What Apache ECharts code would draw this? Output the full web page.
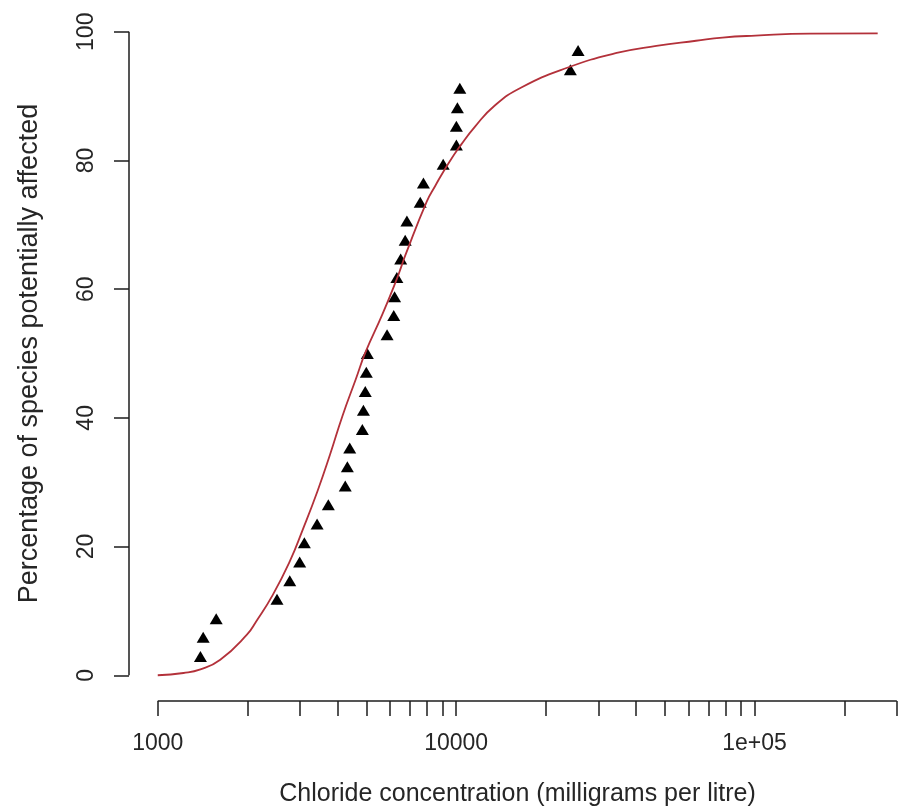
<!DOCTYPE html>
<html>
<head>
<meta charset="utf-8">
<title>Chloride species sensitivity distribution</title>
<script src="https://cdn.jsdelivr.net/npm/echarts@6/dist/echarts.min.js"></script>
<style>
  html, body { margin: 0; padding: 0; background: #ffffff; }
  #chart { width: 906px; height: 812px; }
</style>
</head>
<body>
<div id="chart"></div>
<script>
// Observed toxicity data: concentration (mg/L) and cumulative percentage of species
const concentration = [1390, 1420, 1570, 2510, 2770, 2990, 3100, 3420, 3730, 4250, 4320,
  4400, 4850, 4890, 4960, 5000, 5040, 5870, 6180, 6220, 6330, 6520, 6750, 6840, 7580,
  7770, 9050, 10020, 10020, 10100, 10290, 24150, 25630];
const affected = [2.9, 5.9, 8.8, 11.8, 14.7, 17.6, 20.6, 23.5, 26.5, 29.4, 32.4, 35.3,
  38.2, 41.2, 44.1, 47.1, 50.0, 52.9, 55.9, 58.8, 61.8, 64.7, 67.6, 70.6, 73.5, 76.5,
  79.4, 82.4, 85.3, 88.2, 91.2, 94.1, 97.1];

// Fitted distribution curve
const fitConc = [1000, 1220, 1390, 1620, 1990, 2140, 2430, 2770, 3060, 3430, 3780,
  4160, 4610, 4970, 5650, 6330, 6550, 6750, 7970, 8500, 9410, 10410, 11590, 13450, 16480,
  23560, 34530, 46900, 63700, 78100, 100800, 153500, 258800];
const fitPct = [0.0, 0.35, 0.9, 2.4, 6.3, 8.4, 12.5, 17.7, 22.6, 28.6, 34.3,
  40.3, 46.0, 50.2, 56.0, 61.6, 63.5, 65.2, 73.6, 76.0, 79.5, 82.5, 85.3, 88.5, 91.3,
  94.4, 96.7, 97.8, 98.6, 99.1, 99.4, 99.7, 99.75];

// Axis ticks and labels
const xTickValues = [1000, 2000, 3000, 4000, 5000, 6000, 7000, 8000, 9000,
  10000, 20000, 30000, 40000, 50000, 60000, 70000, 80000, 90000,
  100000, 200000, 300000];
const xLabelValues = [1000, 10000, 100000];
const xLabelTexts = ['1000', '10000', '1e+05'];
const yTickValues = [0, 20, 40, 60, 80, 100];
const yLabelTexts = ['0', '20', '40', '60', '80', '100'];

// Plot ranges (data range padded by 4% on each side)
const xMin = 801, xMax = 322000;
const yMin = -4, yMax = 104;

const ink = '#1c1c1c';
const textColor = '#262626';
const fontFamily = '"Liberation Sans", Arial, Helvetica, sans-serif';
const tickFont = 23;

const chart = echarts.init(document.getElementById('chart'), null, { renderer: 'canvas' });

chart.setOption({
  backgroundColor: '#ffffff',
  animation: false,
  grid: { left: 129, top: 6, right: -6, bottom: 110 },
  xAxis: {
    type: 'log',
    logBase: 10,
    min: xMin,
    max: xMax,
    name: 'Chloride concentration (milligrams per litre)',
    nameLocation: 'middle',
    nameGap: 81,
    nameTextStyle: { color: textColor, fontFamily: fontFamily, fontSize: 25 },
    axisLine: { show: false, onZero: false },
    splitLine: { show: false },
    minorTick: { show: false },
    axisTick: {
      show: true,
      inside: false,
      length: 15,
      customValues: xTickValues,
      lineStyle: { color: ink, width: 1.5 }
    },
    axisLabel: {
      show: true,
      margin: 31,
      customValues: xLabelValues,
      color: textColor,
      fontFamily: fontFamily,
      fontSize: tickFont,
      formatter: function (v) {
        const i = xLabelValues.findIndex(function (t) { return Math.abs(t - v) / t < 1e-6; });
        return i >= 0 ? xLabelTexts[i] : '';
      }
    }
  },
  yAxis: {
    type: 'value',
    min: yMin,
    max: yMax,
    name: 'Percentage of species potentially affected',
    nameLocation: 'middle',
    nameGap: 86,
    nameRotate: 90,
    nameTextStyle: { color: textColor, fontFamily: fontFamily, fontSize: 27 },
    axisLine: { show: false, onZero: false },
    splitLine: { show: false },
    axisTick: {
      show: true,
      inside: false,
      length: 15,
      customValues: yTickValues,
      lineStyle: { color: ink, width: 1.5 }
    },
    axisLabel: {
      show: true,
      margin: 31,
      rotate: 90,
      customValues: yTickValues,
      color: textColor,
      fontFamily: fontFamily,
      fontSize: tickFont,
      formatter: function (v) {
        const i = yTickValues.indexOf(Math.round(v));
        return i >= 0 ? yLabelTexts[i] : '';
      }
    }
  },
  series: [
    {
      // x axis line spanning the tick range
      type: 'line',
      data: [[xTickValues[0], yMin], [xTickValues[xTickValues.length - 1], yMin]],
      showSymbol: false,
      symbol: 'none',
      clip: false,
      silent: true,
      lineStyle: { color: ink, width: 1.5 },
      z: 1
    },
    {
      // y axis line spanning the tick range
      type: 'line',
      data: [[xMin, yTickValues[0]], [xMin, yTickValues[yTickValues.length - 1]]],
      showSymbol: false,
      symbol: 'none',
      clip: false,
      silent: true,
      lineStyle: { color: ink, width: 1.5 },
      z: 1
    },
    {
      type: 'scatter',
      data: concentration.map(function (c, i) { return [c, affected[i]]; }),
      symbol: 'triangle',
      symbolSize: [13, 11],
      itemStyle: { color: '#000000', opacity: 1 },
      z: 2
    },
    {
      type: 'line',
      data: fitConc.map(function (c, i) { return [c, fitPct[i]]; }),
      showSymbol: false,
      symbol: 'none',
      smooth: 0.5,
      lineStyle: { color: '#b3313a', width: 1.8 },
      z: 3
    }
  ]
});
</script>
</body>
</html>
